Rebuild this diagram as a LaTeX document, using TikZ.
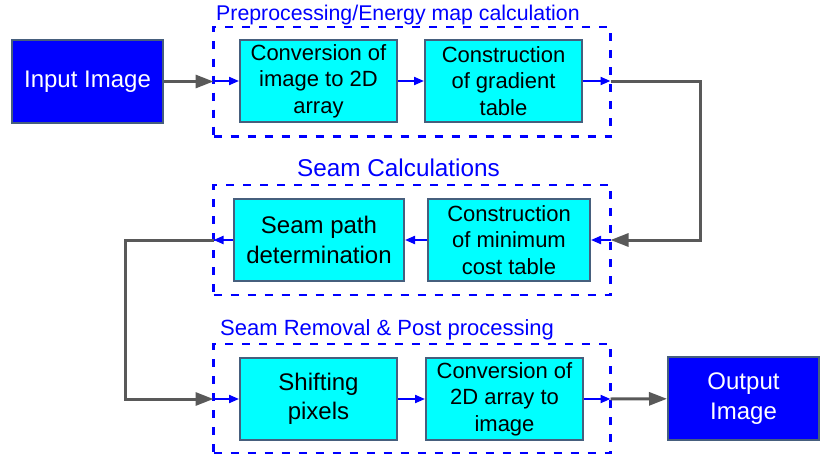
\documentclass[tikz,border=0pt]{standalone}
\usepackage{fontspec}
\setmainfont{Liberation Sans}
\usetikzlibrary{positioning,arrows.meta}

\definecolor{boxblue}{RGB}{0,0,255}
\definecolor{boxcyan}{RGB}{0,255,255}
\definecolor{edgeslate}{RGB}{70,95,125}
\definecolor{flowgray}{RGB}{89,89,89}

\tikzset{
  io/.style={draw=edgeslate, line width=2pt, fill=boxblue, text=white, align=center,
    minimum width=151pt, minimum height=83pt, inner sep=0pt, font=\fontsize{24}{29.5}\selectfont},
  proc/.style={draw=edgeslate, line width=2pt, fill=boxcyan, text=black, align=center,
    minimum height=82pt, inner sep=0pt, font=\fontsize{22}{26.5}\selectfont},
  group/.style={draw=boxblue, line width=2.5pt, dash pattern=on 8pt off 9pt,
    minimum width=397pt, outer sep=0pt},
  grouplabel/.style={text=boxblue, anchor=base west, inner sep=0pt},
  flow/.style={draw=flowgray, line width=3pt, -{Triangle[length=18pt,width=13pt]}},
  link/.style={draw=boxblue, line width=2pt, -{Triangle[length=10pt,width=8pt]}},
}

\begin{document}
\begin{tikzpicture}[x=1pt, y=-1pt]

    \useasboundingbox (0,0) rectangle (831,463);

    % Define nodes
    \node[io]                                   (inp)  at (87.5,81.5) {Input Image};
    \node[proc, minimum width=157pt]            (arr)  at (318.5,81)  {Conversion of\\image to 2D\\array};
    \node[proc, minimum width=157pt, right=26pt of arr] (grad) {Construction\\of gradient\\table};

    \node[proc, minimum width=162pt]            (cost) at (509,240)   {Construction\\of minimum\\cost table};
    \node[proc, minimum width=170pt, left=22pt of cost,
          font=\fontsize{24}{29.5}\selectfont]  (path) {Seam path\\determination};

    \node[proc, minimum width=157pt,
          font=\fontsize{24}{29.5}\selectfont]  (shift) at (318.5,399) {Shifting\\pixels};
    \node[proc, minimum width=157pt, right=27pt of shift] (img) {Conversion of\\2D array to\\image};
    \node[io]                                   (out)  at (743.5,398.5) {Output\\Image};

    % Groups
    \node[group, minimum height=109.5pt] (pre)  at (412,81.75) {};
    \node[group, minimum height=110pt]   (seam) at (412,240)   {};
    \node[group, minimum height=109pt]   (post) at (412,398.5) {};

    \node[grouplabel, font=\fontsize{21.3}{24}\selectfont] (prelbl)  at (216,20)  {Preprocessing/Energy map calculation};
    \node[grouplabel, font=\fontsize{24.3}{27}\selectfont] (seamlbl) at (297,176) {Seam Calculations};
    \node[grouplabel, font=\fontsize{22}{25}\selectfont]   (postlbl) at (220,335) {Seam Removal \& Post processing};

    \coordinate (turnR) at (700.5,160);
    \coordinate (turnL) at (125,320);

    % Connect the nodes
    \draw[flow] (inp) -- (inp -| pre.west);
    \draw[link] (arr -| pre.west) -- (arr);
    \draw[link] (arr) -- (grad);
    \draw[link] (grad) -- (grad -| pre.east);
    \draw[flow] (grad -| pre.east) -| (turnR) |- (cost -| seam.east);

    \draw[link] (cost -| seam.east) -- (cost);
    \draw[link] (cost) -- (path);
    \draw[link] (path) -- (path -| seam.west);
    \draw[flow] (path -| seam.west) -| (turnL) |- (shift -| post.west);

    \draw[link] (shift -| post.west) -- (shift);
    \draw[link] (shift) -- (img);
    \draw[link] (img) -- (img -| post.east);
    \draw[flow] (img -| post.east) -- (out);

\end{tikzpicture}
\end{document}
